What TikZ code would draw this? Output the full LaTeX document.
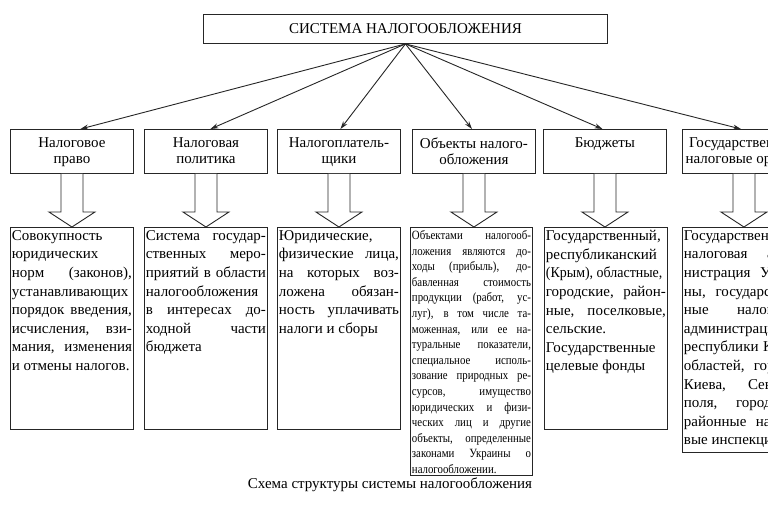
\documentclass[tikz,border=0pt]{standalone}
\usepackage{graphicx}
\usepackage{fontspec}
\setmainfont{Liberation Serif}
\newfontfamily\condfont[FakeStretch=0.86]{Liberation Serif}
\usetikzlibrary{arrows.meta,calc}
\newcommand\jpar[3]{\parbox[c][#1][t]{#2}{\parindent=0pt\hyphenpenalty=10000\exhyphenpenalty=10000\tolerance=10000\emergencystretch=0pt\parskip=0pt\vspace*{1.5pt}#3}}
\newcommand\htxt[1]{\parbox[c][44pt][t]{123pt}{\vspace*{8pt}\centering #1\par}}
\newcommand\barr[2]{%
  \coordinate (tip#1) at (#1.south |- #2.north);
  \draw[blockarrow] ($(#1.south)+(-11,0)$) -- ($(tip#1)+(-11,-15)$) -- ($(tip#1)+(-23,-15)$) -- (tip#1)
     -- ($(tip#1)+(23,-15)$) -- ($(tip#1)+(11,-15)$) -- ($(#1.south)+(11,0)$);}
\begin{document}
\begin{tikzpicture}[x=1pt,y=-1pt, line width=0.9pt, color=black!85, text=black,
  topbox/.style={draw, anchor=north west, inner sep=0pt, minimum width=404pt, minimum height=29pt, font=\fontsize{15}{18}\selectfont},
  hdr/.style={draw, anchor=north west, inner sep=0pt, font=\fontsize{15}{16}\selectfont},
  lowbox/.style={draw, anchor=north west, inner sep=1.5pt, font=\fontsize{15}{18.6}\selectfont},
  smallbox/.style={draw, anchor=north west, inner sep=1.5pt, font=\condfont\fontsize{12.6}{15.6}\selectfont},
  conn/.style={-{Stealth[length=8pt,width=5pt]}},
  blockarrow/.style={fill=white},
  caption/.style={font=\fontsize{15}{18}\selectfont}]
\useasboundingbox (0,0) rectangle (768,514);
\clip (0,0) rectangle (768,514);
\fill[white] (0,0) rectangle (768,514);

\node[topbox] (top) at (203,14) {СИСТЕМА НАЛОГООБЛОЖЕНИЯ};

\node[hdr] (h1) at (10,129) {\htxt{Налоговое\\право}};
\node[hdr] (h2) at (144,129) {\htxt{Налоговая\\политика}};
\node[hdr] (h3) at (277,129) {\htxt{Налогоплатель-\\щики}};
\node[hdr] (h4) at (412,129) {\htxt{Объекты налого-\\обложения}};
\node[hdr] (h5) at (543,129) {\htxt{Бюджеты}};
\node[hdr] (h6) at (682,129) {\htxt{Государственные\\налоговые органы}};

\draw[conn] (top.south) -- ($(h1.north)+(8.5,0)$);
\draw[conn] (top.south) -- ($(h2.north)+(4.5,0)$);
\draw[conn] (top.south) -- ($(h3.north)+(1.5,0)$);
\draw[conn] (top.south) -- ($(h4.north)+(-2,0)$);
\draw[conn] (top.south) -- ($(h5.north)+(-2.5,0)$);
\draw[conn] (top.south) -- ($(h6.north)+(-3,0)$);

\node[lowbox] (l1) at (10,227) {\jpar{199pt}{120pt}{Совокупность\linebreak
юридических\linebreak
норм (законов),\linebreak
устанавливающих\linebreak
порядок введения,\linebreak
исчисления, взи-\linebreak
мания, изменения\linebreak
и отмены налогов.}};

\node[lowbox] (l2) at (144,227) {\jpar{199pt}{120pt}{Система государ-\linebreak
ственных меро-\linebreak
приятий в области\linebreak
налогообложения\linebreak
в интересах до-\linebreak
ходной части\linebreak
бюджета}};

\node[lowbox] (l3) at (277,227) {\jpar{199pt}{120pt}{Юридические,\linebreak
физические лица,\linebreak
на которых воз-\linebreak
ложена обязан-\linebreak
ность уплачивать\linebreak
налоги и сборы}};

\node[smallbox] (l4) at (410,227) {\jpar{245pt}{119pt}{Объектами налогооб-\linebreak
ложения являются до-\linebreak
ходы (прибыль), до-\linebreak
бавленная стоимость\linebreak
продукции (работ, ус-\linebreak
луг), в том числе та-\linebreak
моженная, или ее на-\linebreak
туральные показатели,\linebreak
специальное исполь-\linebreak
зование природных ре-\linebreak
сурсов, имущество\linebreak
юридических и физи-\linebreak
ческих лиц и другие\linebreak
объекты, определенные\linebreak
законами Украины о\linebreak
налогообложении.}};

\node[lowbox] (l5) at (544,227) {\jpar{199pt}{120pt}{Государственный,\linebreak
республиканский\linebreak
\scalebox{0.93}[1]{(Крым), областные,}\linebreak
городские, район-\linebreak
ные, поселковые,\linebreak
сельские.\par
Государственные\linebreak
целевые фонды}};

\node[lowbox] (l6) at (682,227) {\jpar{222pt}{120pt}{Государственная\linebreak
налоговая адми-\linebreak
нистрация Украи-\linebreak
ны, государствен-\linebreak
ные налоговые\linebreak
администрации\linebreak
республики Крым,\linebreak
областей, городов\linebreak
Киева, Севасто-\linebreak
поля, городские,\linebreak
районные налого-\linebreak
вые инспекции.}};

\barr{h1}{l1}
\barr{h2}{l2}
\barr{h3}{l3}
\barr{h4}{l4}
\barr{h5}{l5}
\barr{h6}{l6}

\node[caption] (cap) at (390,485) {Схема структуры системы налогообложения};
\end{tikzpicture}
\end{document}
